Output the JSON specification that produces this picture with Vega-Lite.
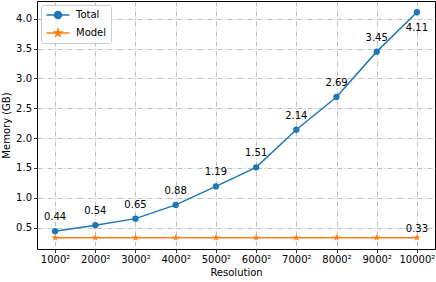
{
  "$schema": "https://vega.github.io/schema/vega-lite/v6.json",
  "width": 398,
  "height": 248,
  "autosize": "none",
  "padding": {"left": 37, "top": 1, "right": 1, "bottom": 33},
  "background": "white",
  "config": {
    "font": "DejaVu Sans",
    "view": {"stroke": "black", "strokeWidth": 1},
    "axis": {
      "domain": false,
      "tickColor": "black",
      "tickSize": 3.5,
      "tickWidth": 0.8,
      "labelColor": "black",
      "labelFontSize": 10,
      "labelFont": "DejaVu Sans",
      "titleFont": "DejaVu Sans",
      "titleFontSize": 10,
      "titleFontWeight": "normal",
      "titleColor": "black",
      "gridColor": "#b0b0b0",
      "gridWidth": 0.8,
      "gridDash": [5, 2, 1, 2]
    }
  },
  "data": {
    "values": [
      {"series": "Total", "res": 1, "mem": 0.44},
      {"series": "Total", "res": 2, "mem": 0.54},
      {"series": "Total", "res": 3, "mem": 0.65},
      {"series": "Total", "res": 4, "mem": 0.88},
      {"series": "Total", "res": 5, "mem": 1.19},
      {"series": "Total", "res": 6, "mem": 1.51},
      {"series": "Total", "res": 7, "mem": 2.14},
      {"series": "Total", "res": 8, "mem": 2.69},
      {"series": "Total", "res": 9, "mem": 3.45},
      {"series": "Total", "res": 10, "mem": 4.11},
      {"series": "Model", "res": 1, "mem": 0.33},
      {"series": "Model", "res": 2, "mem": 0.33},
      {"series": "Model", "res": 3, "mem": 0.33},
      {"series": "Model", "res": 4, "mem": 0.33},
      {"series": "Model", "res": 5, "mem": 0.33},
      {"series": "Model", "res": 6, "mem": 0.33},
      {"series": "Model", "res": 7, "mem": 0.33},
      {"series": "Model", "res": 8, "mem": 0.33},
      {"series": "Model", "res": 9, "mem": 0.33},
      {"series": "Model", "res": 10, "mem": 0.33}
    ]
  },
  "encoding": {
    "x": {
      "field": "res",
      "type": "quantitative",
      "scale": {"domain": [0.55, 10.45], "nice": false, "zero": false},
      "axis": {
        "title": "Resolution",
        "values": [1, 2, 3, 4, 5, 6, 7, 8, 9, 10],
        "labelExpr": "(datum.value * 1000) + '²'",
        "titlePadding": 3,
        "labelPadding": 2
      }
    },
    "y": {
      "field": "mem",
      "type": "quantitative",
      "scale": {"domain": [0.141, 4.299], "nice": false, "zero": false},
      "axis": {
        "title": "Memory (GB)",
        "values": [0.5, 1.0, 1.5, 2.0, 2.5, 3.0, 3.5, 4.0],
        "format": ".1f",
        "titlePadding": 4,
        "labelPadding": 2
      }
    }
  },
  "layer": [
    {
      "mark": {"type": "line", "strokeWidth": 1.5},
      "encoding": {
        "color": {
          "field": "series",
          "type": "nominal",
          "scale": {"domain": ["Total", "Model"], "range": ["#1f77b4", "#ff7f0e"]},
          "legend": {
            "title": null,
            "orient": "top-left",
            "offset": 4,
            "padding": 4,
            "fillColor": "rgba(255,255,255,0.8)",
            "strokeColor": "#cccccc",
            "cornerRadius": 2,
            "labelFontSize": 10,
            "labelFont": "DejaVu Sans",
            "labelColor": "black",
            "symbolSize": 100,
            "symbolOffset": 7,
            "labelOffset": 12,
            "rowPadding": 4,
            "symbolStrokeWidth": 1.5,
            "symbolOpacity": 1,
            "symbolType": {"expr": "datum.value === 'Total' ? 'M-2.3,0H2.3M-0.7,0A0.7,0.7 0 1,0 0.7,0A0.7,0.7 0 1,0 -0.7,0Z' : 'M-2.3,0H2.3M0,-0.7L0.158,-0.216L0.666,-0.216L0.254,0.083L0.412,0.566L0,0.267L-0.412,0.566L-0.254,0.083L-0.666,-0.216L-0.158,-0.216Z'"},
            "symbolFillColor": {"expr": "datum.value === 'Total' ? '#1f77b4' : '#ff7f0e'"},
            "symbolStrokeColor": {"expr": "datum.value === 'Total' ? '#1f77b4' : '#ff7f0e'"}
          }
        }
      }
    },
    {
      "transform": [{"filter": "datum.series === 'Total'"}],
      "mark": {"type": "point", "filled": true, "opacity": 1, "size": 40, "shape": "circle", "color": "#1f77b4"}
    },
    {
      "transform": [{"filter": "datum.series === 'Model'"}],
      "mark": {"type": "point", "filled": true, "opacity": 1, "size": 58, "color": "#ff7f0e", "shape": "M0,-1L0.225,-0.309L0.951,-0.309L0.363,0.118L0.588,0.809L0,0.382L-0.588,0.809L-0.363,0.118L-0.951,-0.309L-0.225,-0.309Z"}
    },
    {
      "transform": [{"filter": "datum.series === 'Total' && datum.res < 10"}],
      "mark": {"type": "text", "dy": -14, "fontSize": 10, "color": "black"},
      "encoding": {"text": {"field": "mem", "format": ".2f"}}
    },
    {
      "transform": [{"filter": "datum.series === 'Total' && datum.res === 10"}],
      "mark": {"type": "text", "dy": 16, "fontSize": 10, "color": "black"},
      "encoding": {"text": {"field": "mem", "format": ".2f"}}
    },
    {
      "transform": [{"filter": "datum.series === 'Model' && datum.res === 10"}],
      "mark": {"type": "text", "dy": -9, "fontSize": 10, "color": "black"},
      "encoding": {"text": {"field": "mem", "format": ".2f"}}
    }
  ]
}
